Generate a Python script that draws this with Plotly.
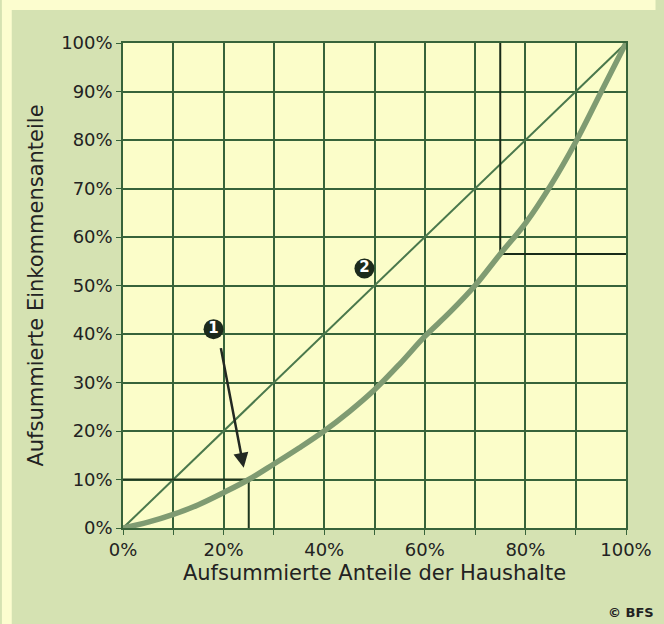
import plotly.graph_objects as go

# Lorenz curve data (percent)
households = [0, 5, 10, 15, 20, 25, 30, 35, 40, 45, 50, 55, 60, 65, 70, 75, 80, 85, 90, 95, 100]
income = [0, 1.2, 2.8, 4.8, 7.3, 10, 13.2, 16.5, 20, 24, 28.5, 33.8, 39.5, 44.5, 50, 56.5, 62.8, 70.6, 79.6, 89.8, 100]
equality_x = [0, 100]
equality_y = [0, 100]
tick_vals = [0, 10, 20, 30, 40, 50, 60, 70, 80, 90, 100]
x_tick_text = ["0%", "", "20%", "", "40%", "", "60%", "", "80%", "", "100%"]
y_tick_text = ["0%", "10%", "20%", "30%", "40%", "50%", "60%", "70%", "80%", "90%", "100%"]
# reference lines (quartiles)
q1_x, q1_y = 25, 10
q3_x, q3_y = 75, 56.5
# marker labels
label_x = [18, 48]
label_y = [41, 53.5]
label_text = ["1", "2"]
arrow_start = (19.4, 37.4)
arrow_end = (24.0, 12.4)

grid_col = "#37633a"
font_fam = "DejaVu Sans"

fig = go.Figure()
fig.add_trace(go.Scatter(x=equality_x, y=equality_y, mode="lines",
                         line=dict(color="#4a784c", width=2), hoverinfo="skip"))
fig.add_trace(go.Scatter(x=[0, q1_x, q1_x], y=[q1_y, q1_y, 0], mode="lines",
                         line=dict(color="#1e361f", width=2), hoverinfo="skip"))
fig.add_trace(go.Scatter(x=[q3_x, q3_x, 100], y=[100, q3_y, q3_y], mode="lines",
                         line=dict(color="#182a18", width=2), hoverinfo="skip"))
fig.add_trace(go.Scatter(x=households, y=income, mode="lines",
                         line=dict(color="#7f9b72", width=5.5, shape="spline", smoothing=1.0),
                         hoverinfo="skip"))
fig.add_trace(go.Scatter(x=label_x, y=label_y, mode="markers+text",
                         marker=dict(size=20, color="#1c2a1c"),
                         text=label_text, textposition="middle center",
                         textfont=dict(color="white", size=15, family="DejaVu Sans", weight="bold"),
                         hoverinfo="skip"))

fig.add_annotation(x=arrow_end[0], y=arrow_end[1], ax=arrow_start[0], ay=arrow_start[1],
                   xref="x", yref="y", axref="x", ayref="y", text="", showarrow=True,
                   arrowhead=2, arrowsize=1.2, arrowwidth=2.5, arrowcolor="#222822")
fig.add_annotation(x=1.0, y=0, xref="paper", yref="paper", xanchor="right", yanchor="middle",
                   yshift=-84, xshift=30, text="© BFS", showarrow=False,
                   font=dict(size=13, color="#222", family=font_fam, weight="bold"))

# light-yellow strips at top and left (outside the green panel)
fig.add_shape(type="rect", xref="paper", yref="paper", layer="below",
              x0=-123/511, x1=1 + 30/511, y0=1 + 33/485, y1=1 + 43/485,
              fillcolor="#fcfdcf", line=dict(width=0))
fig.add_shape(type="rect", xref="paper", yref="paper", layer="below",
              x0=-123/511, x1=-113/511, y0=-96/485, y1=1 + 43/485,
              fillcolor="#fcfdcf", line=dict(width=0))

axis_common = dict(range=[0, 100], tickvals=tick_vals, showgrid=True, gridcolor=grid_col,
                   gridwidth=1.5, zeroline=False, showline=True, linecolor=grid_col, linewidth=1.5,
                   ticks="outside", ticklen=5, tickcolor=grid_col, fixedrange=True,
                   tickfont=dict(size=18, color="#222", family=font_fam),
                   title_font=dict(size=21, color="#222", family=font_fam))
fig.update_xaxes(**axis_common, ticktext=x_tick_text, mirror=True,
                 title_text="Aufsummierte Anteile der Haushalte", title_standoff=6)
fig.update_yaxes(**axis_common, ticktext=y_tick_text, mirror=True,
                 title_text="Aufsummierte Einkommensanteile", title_standoff=12)

fig.update_layout(width=664, height=624, showlegend=False,
                  margin=dict(l=123, r=30, t=43, b=96),
                  paper_bgcolor="#d5e2b2", plot_bgcolor="#fbfdc9")
fig.write_html("out.html", config={"displayModeBar": False},
               post_script="document.body.style.margin='0';document.body.style.background='#fcfdcf';document.body.style.overflow='hidden';")
